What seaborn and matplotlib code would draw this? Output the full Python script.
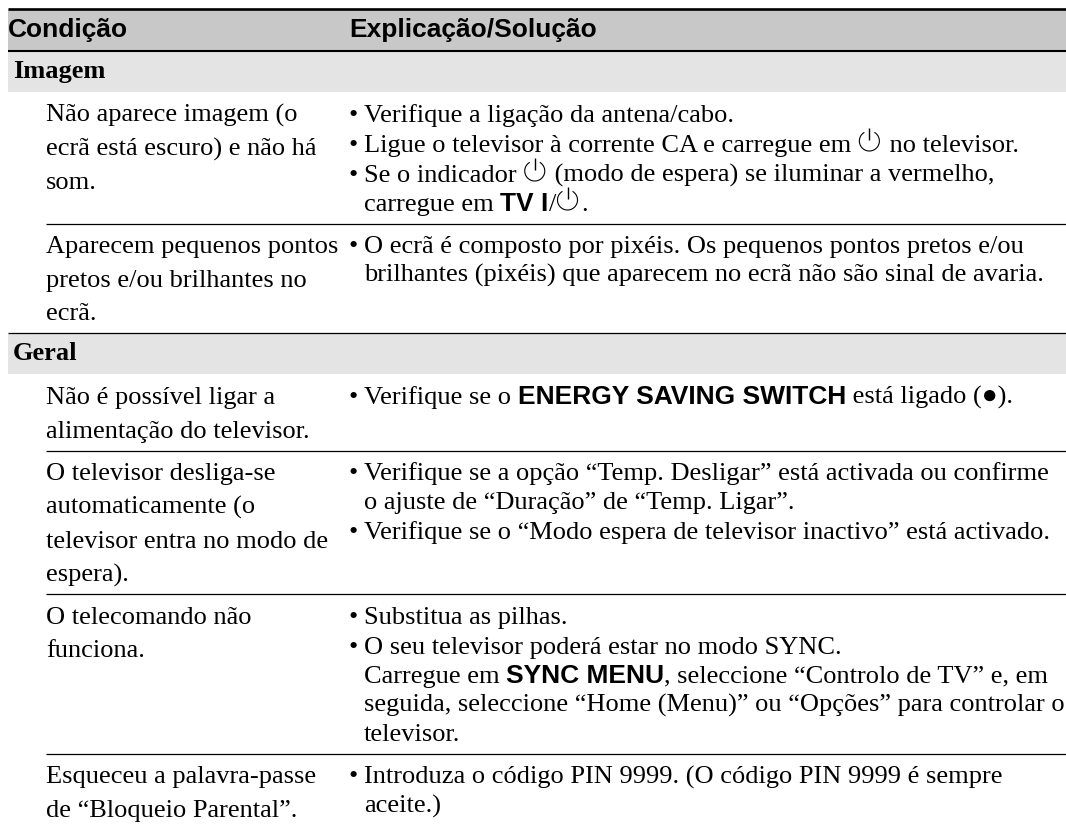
import matplotlib
matplotlib.use("Agg")
import matplotlib.pyplot as plt
from matplotlib.patches import Arc
import seaborn as sns

# table content, P marks the power symbol, **x** marks bold sans text
headers = ["Condição", "Explicação/Solução"]
sections = ["Imagem", "Geral"]

imagem_conditions = [
    ["Não aparece imagem (o", "ecrã está escuro) e não há", "som."],
    ["Aparecem pequenos pontos", "pretos e/ou brilhantes no", "ecrã."],
]
imagem_solutions = [
    [["Verifique a ligação da antena/cabo."],
     ["Ligue o televisor à corrente CA e carregue em |P| no televisor."],
     ["Se o indicador |P| (modo de espera) se iluminar a vermelho,",
      "carregue em |**TV I**|/|P|."]],
    [["O ecrã é composto por pixéis. Os pequenos pontos pretos e/ou",
      "brilhantes (pixéis) que aparecem no ecrã não são sinal de avaria."]],
]
geral_conditions = [
    ["Não é possível ligar a", "alimentação do televisor."],
    ["O televisor desliga-se", "automaticamente (o", "televisor entra no modo de", "espera)."],
    ["O telecomando não", "funciona."],
    ["Esqueceu a palavra-passe", "de “Bloqueio Parental”."],
]
geral_solutions = [
    [["Verifique se o |**ENERGY SAVING SWITCH**| está ligado (●)."]],
    [["Verifique se a opção “Temp. Desligar” está activada ou confirme",
      "o ajuste de “Duração” de “Temp. Ligar”."],
     ["Verifique se o “Modo espera de televisor inactivo” está activado."]],
    [["Substitua as pilhas."],
     ["O seu televisor poderá estar no modo SYNC.",
      "Carregue em |**SYNC MENU**|, seleccione “Controlo de TV” e, em",
      "seguida, seleccione “Home (Menu)” ou “Opções” para controlar o",
      "televisor."]],
    [["Introduza o código PIN 9999. (O código PIN 9999 é sempre", "aceite.)"]],
]

sns.set_theme(style="white")
plt.rcParams["font.family"] = ["Liberation Serif", "DejaVu Sans"]

FS = 19.0
SERIF = "Liberation Serif"
SANS = "Liberation Sans"
LEFT, COND_X, SOL_X, TEXT_X, RIGHT = 8, 46, 349, 364, 1066

fig = plt.figure(figsize=(10.66, 8.24), dpi=100, facecolor="white")
ax = fig.add_axes([0, 0, 1, 1])
ax.set_xlim(0, 1066)
ax.set_ylim(824, 0)
sns.despine(ax=ax, left=True, bottom=True)
ax.axis("off")
renderer = fig.canvas.get_renderer()


def text_width(s, family, weight):
    # measure with a marker so trailing spaces are counted
    t = ax.text(0, 0, s + "|", fontsize=FS, family=family, weight=weight)
    w = t.get_window_extent(renderer).width
    t.set_text("|")
    w -= t.get_window_extent(renderer).width
    t.remove()
    return w


def draw_power(x, y):
    cx, cy, r = x + 11.5, y - 10.5, 10
    ax.add_patch(Arc((cx, cy), 2 * r, 2 * r, theta1=-60, theta2=240, color="black", lw=0.8))
    ax.plot([cx, cx], [cy - 13.5, cy - 1], color="black", lw=1.0, solid_capstyle="butt")


def draw_line(x, y, s):
    for run in s.split("|"):
        if run == "P":
            draw_power(x, y)
            x += 25
        elif run.startswith("**"):
            run = run.strip("*")
            ax.text(x, y, run, fontsize=FS, family=SANS, weight="bold", va="baseline", color="black")
            x += text_width(run, SANS, "bold")
        elif run:
            ax.text(x, y, run, fontsize=FS, family=SERIF, va="baseline", color="black")
            x += text_width(run, SERIF, "normal")


def draw_row(top, condition, solution):
    y = top + 29.5
    last = y
    for i, s in enumerate(condition):
        last = y + i * 33.7
        ax.text(COND_X, last, s, fontsize=FS, family=SERIF, va="baseline", color="black")
    yr = top + 29.5
    for b, bullet in enumerate(solution):
        if b > 0:
            yr += 30
        ax.text(SOL_X, yr, "•", fontsize=FS, family=SERIF, va="baseline", color="black")
        for j, s in enumerate(bullet):
            if j > 0:
                yr += 29
            draw_line(TEXT_X, yr, s)
    return max(last, yr) + 13


def draw_section(top, name, conditions, solutions):
    ax.fill_between([LEFT, RIGHT], top, top + 40, color="#e4e4e4", lw=0)
    ax.text(13, top + 26, name, fontsize=FS, family=SERIF, weight="bold", va="baseline", color="black")
    y = top + 40
    for i, (c, s) in enumerate(zip(conditions, solutions)):
        y = draw_row(y, c, s)
        if i < len(conditions) - 1:
            ax.hlines(y, COND_X, RIGHT, color="black", lw=0.9)
    return y


# header band
ax.fill_between([LEFT, RIGHT], 9, 51, color="#c8c8c8", lw=0)
ax.hlines(9.2, LEFT, RIGHT, color="black", lw=1.9)
ax.hlines(51, LEFT, RIGHT, color="black", lw=1.5)
ax.text(LEFT, 37, headers[0], fontsize=FS, family=SANS, weight="bold", va="baseline", color="black")
ax.text(SOL_X, 37, headers[1], fontsize=FS, family=SANS, weight="bold", va="baseline", color="black")

end = draw_section(52, sections[0], imagem_conditions, imagem_solutions)
ax.hlines(end, LEFT, RIGHT, color="black", lw=0.9)
draw_section(end + 1, sections[1], geral_conditions, geral_solutions)

fig.savefig("out.png", dpi=100)
